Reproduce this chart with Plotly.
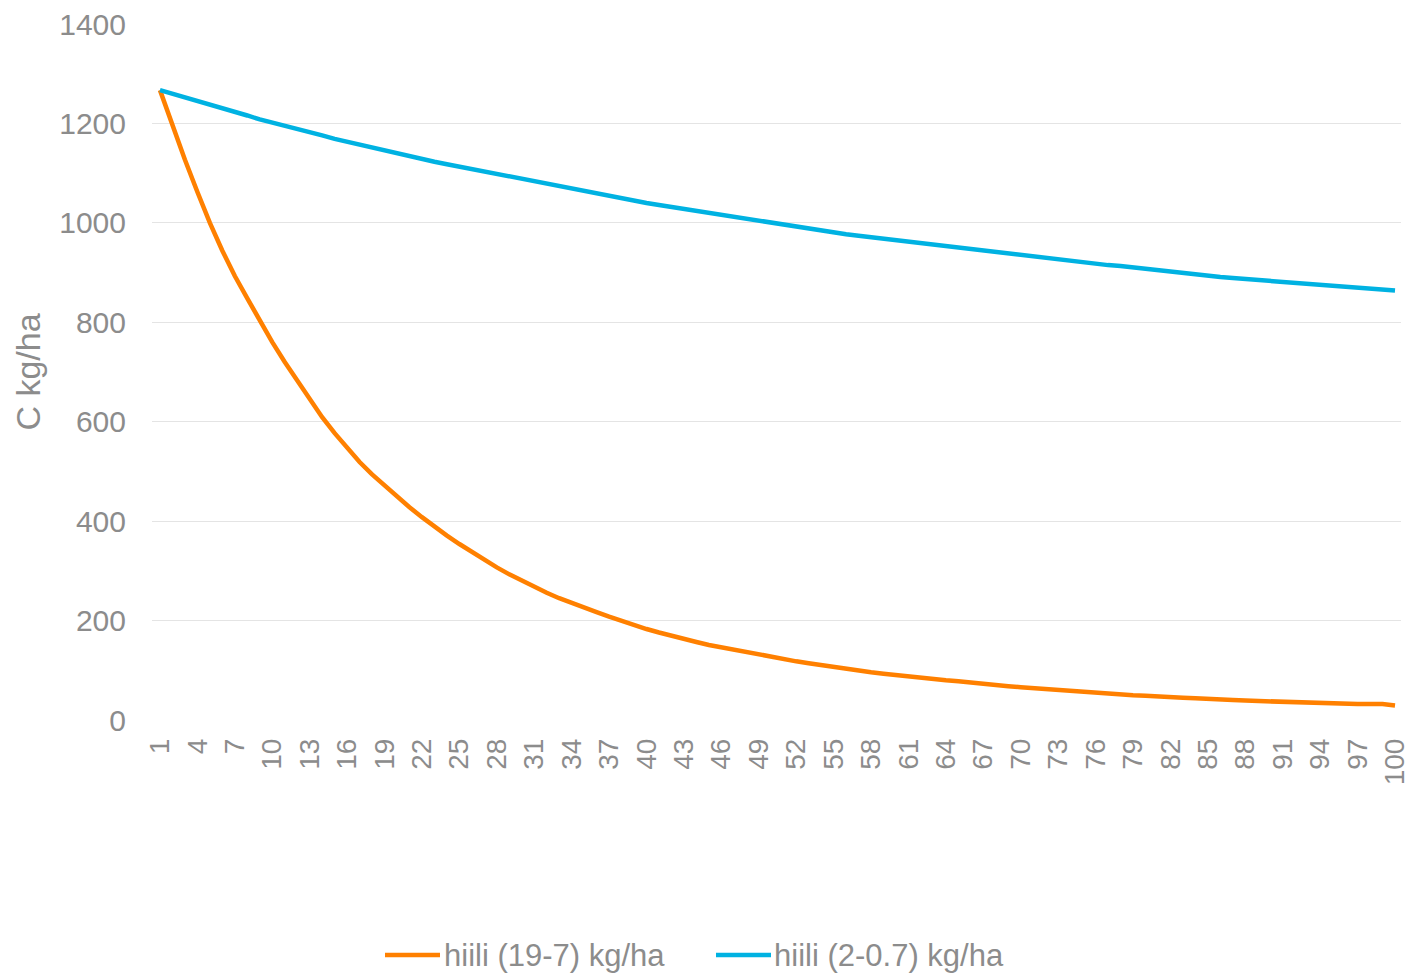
import plotly.graph_objects as go

# Year index
years = list(range(1, 101))

# Carbon remaining, kg/ha
hiili_19_7 = [
    1267, 1195, 1127, 1062, 1000, 944, 893, 848, 802, 760,
    720, 683, 645, 609, 577, 547, 519, 494, 471, 449,
    428, 408, 389, 371, 354, 338, 322, 307, 293, 280,
    268, 256, 245, 235, 226, 217, 208, 199, 191, 183,
    176, 169, 163, 157, 151, 146, 141, 136, 131, 126,
    122, 118, 114, 110, 106, 102, 99, 96, 93, 90,
    87, 85, 82, 80, 78, 75, 73, 71, 68, 66,
    64, 62, 60, 58, 56, 55, 53, 51, 50, 49,
    47, 46, 45, 44, 42, 41, 40, 39, 38, 37,
    36, 36, 35, 34, 34, 33, 32, 32, 32, 29,
]

hiili_2_07 = [
    1267, 1260, 1253, 1246, 1238, 1230, 1223, 1216, 1208, 1202,
    1195, 1189, 1182, 1176, 1169, 1163, 1157, 1151, 1145, 1139,
    1133, 1128, 1123, 1118, 1113, 1108, 1103, 1098, 1093, 1088,
    1083, 1078, 1073, 1068, 1063, 1058, 1054, 1049, 1045, 1040,
    1036, 1032, 1027, 1023, 1019, 1015, 1011, 1007, 1003, 999,
    995, 992, 988, 984, 981, 977, 974, 971, 967, 964,
    961, 958, 955, 952, 949, 946, 943, 940, 937, 934,
    931, 928, 925, 923, 920, 918, 915, 913, 910, 908,
    905, 903, 900, 897, 894, 891, 889, 887, 885, 883,
    881, 879, 877, 875, 873, 871, 869, 867, 865, 864,
]

series_names = ["hiili (19-7) kg/ha", "hiili (2-0.7) kg/ha"]
series_colors = ["#FF8000", "#00B2E2"]

y_ticks = [0, 200, 400, 600, 800, 1000, 1200, 1400]
x_ticks = years[::3]

FONT = "Liberation Sans, Arial, sans-serif"
GREY = "#8C8C8C"

fig = go.Figure()
for name, vals, col in zip(series_names, [hiili_19_7, hiili_2_07], series_colors):
    fig.add_trace(go.Scatter(
        x=years, y=vals, mode="lines", name=name,
        line=dict(color=col, width=4.5), showlegend=False,
    ))

W, H = 1411, 973
L, R, T, B = 152, 10, 24, 253
pw, ph = W - L - R, H - T - B

def px(xp):
    return (xp - L) / pw

def py(yp):
    return (H - B - yp) / ph

# Legend drawn below the plot
legend_items = [(385, 440, 442), (716, 771, 772)]
for (x0, x1, xt), name, col in zip(legend_items, series_names, series_colors):
    fig.add_shape(type="line", xref="paper", yref="paper",
                  x0=px(x0), x1=px(x1), y0=py(955), y1=py(955),
                  line=dict(color=col, width=4.5))
    fig.add_annotation(xref="paper", yref="paper", x=px(xt), y=py(955),
                       text=name, showarrow=False, xanchor="left", yanchor="middle",
                       font=dict(family=FONT, size=31, color=GREY))

fig.update_layout(
    width=W, height=H,
    margin=dict(l=L, r=R, t=T, b=B, autoexpand=False),
    plot_bgcolor="white", paper_bgcolor="white",
    font=dict(family=FONT, color=GREY),
)
fig.update_xaxes(
    range=[0.36, 100.48], tickmode="array", tickvals=x_ticks,
    ticktext=[str(v) for v in x_ticks], tickangle=-90,
    tickfont=dict(family=FONT, size=28, color=GREY),
    showgrid=False, zeroline=False, showline=False, ticks="",
    ticklabelstandoff=12,
)
fig.update_yaxes(
    range=[0, 1400], tickmode="array", tickvals=y_ticks,
    tickfont=dict(family=FONT, size=30, color=GREY),
    showgrid=True, gridcolor="#E4E4E4", gridwidth=1,
    zeroline=False, showline=False, ticks="",
    ticklabelstandoff=25,
    title=dict(text="C kg/ha", font=dict(family=FONT, size=34, color=GREY), standoff=8),
)

fig.write_html("out.html")
